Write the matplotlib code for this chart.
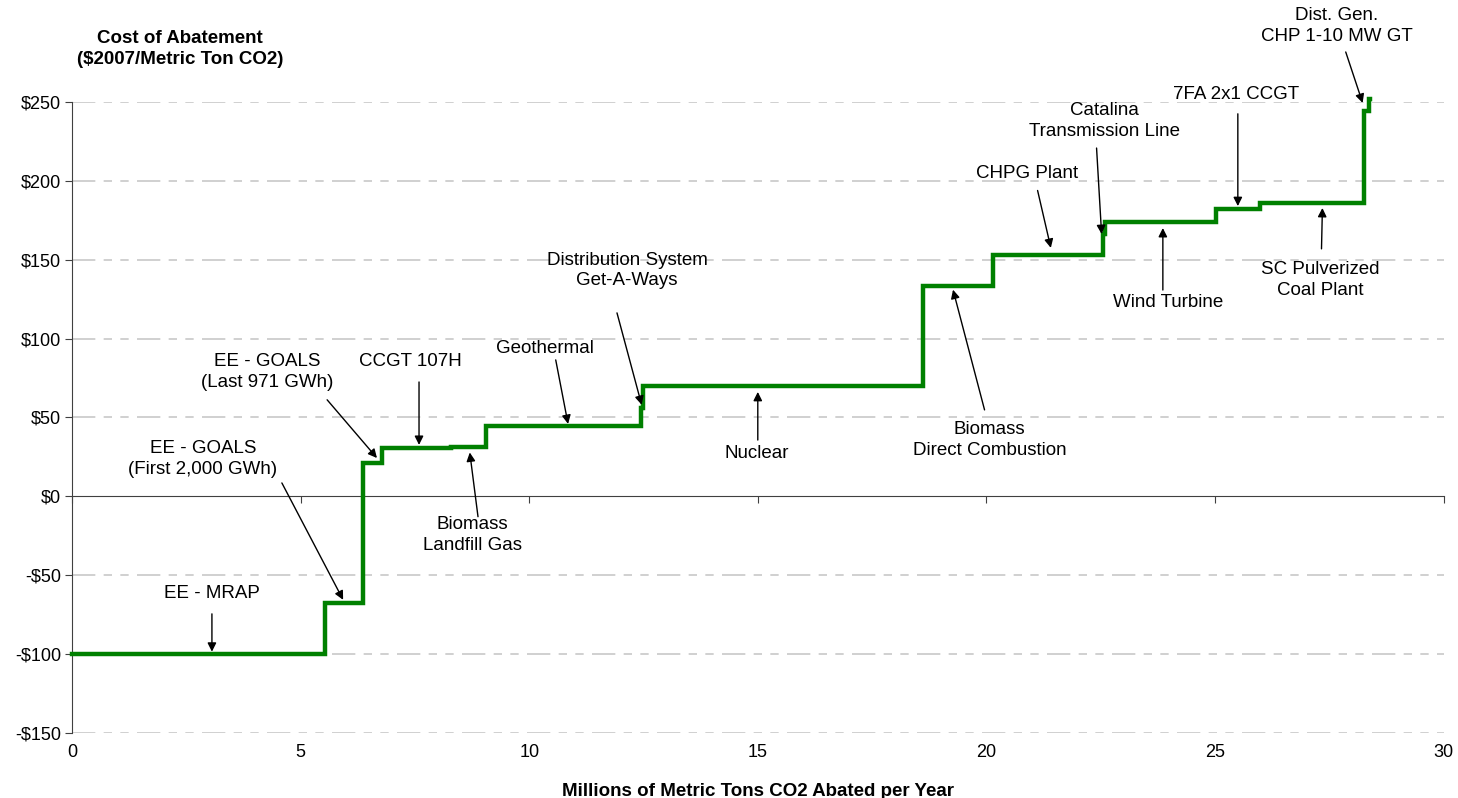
import matplotlib
matplotlib.use('Agg')
import matplotlib.pyplot as plt
import numpy as np

plt.rcParams['font.family'] = ['Liberation Sans', 'DejaVu Sans']

# step edges (millions of metric tons CO2 / yr) and cost levels ($/ton)
edges = [0, 5.53, 6.37, 6.79, 8.30, 9.05, 12.44, 12.49, 18.62, 20.15,
         22.54, 22.59, 25.03, 25.98, 28.27, 28.36, 28.40]
levels = [-100, -67.5, 21, 30.5, 31.5, 44.4, 56, 69.8, 133.3, 153.3,
          166, 174, 182, 186, 244, 252]

# label text, text centre, arrow tail, arrow head (data coords)
labels = ['EE - MRAP', 'EE - GOALS\n(First 2,000 GWh)', 'EE - GOALS\n(Last 971 GWh)',
          'CCGT 107H', 'Biomass\nLandfill Gas', 'Geothermal',
          'Distribution System\nGet-A-Ways', 'Nuclear', 'Biomass\nDirect Combustion',
          'CHPG Plant', 'Catalina\nTransmission Line', '7FA 2x1 CCGT',
          'Dist. Gen.\nCHP 1-10 MW GT', 'Wind Turbine', 'SC Pulverized\nCoal Plant']
text_x = [3.06, 2.86, 4.26, 7.39, 8.75, 10.34, 12.14, 14.98, 20.07, 20.90, 22.59, 25.47, 27.66, 23.97, 27.31]
text_y = [-61.5, 23.6, 78.8, 85.2, -24.5, 93.6, 143.4, 26.9, 35.7, 204.4, 237.9, 254.5, 298.2, 122.7, 137.2]
tail_x = [3.06, 4.59, 5.58, 7.59, 8.88, 10.58, 11.92, 15.00, 19.96, 21.12, 22.41, 25.50, 27.86, 23.86, 27.33]
tail_y = [-74.5, 8.5, 61.2, 72.5, -12.9, 86.5, 116.3, 35.7, 54.8, 193.9, 220.8, 242.5, 281.7, 130.8, 156.9]
head_x = [3.06, 5.93, 6.67, 7.59, 8.70, 10.85, 12.46, 15.00, 19.27, 21.41, 22.52, 25.50, 28.23, 23.86, 27.35]
head_y = [-98.5, -65.6, 24.3, 32.6, 27.8, 45.9, 58.0, 66.2, 131.0, 157.5, 166.3, 184.0, 249.4, 170.1, 182.8]

xticks = [0, 5, 10, 15, 20, 25, 30]
yticks = [-150, -100, -50, 0, 50, 100, 150, 200, 250]
ytick_labels = ['-$150', '-$100', '-$50', '$0', '$50', '$100', '$150', '$200', '$250']

fig = plt.figure(figsize=(14.58, 7.98), dpi=100)
ax = fig.add_axes([0.0494, 0.0815, 0.9407, 0.7907])

ax.set_xlim(0, 30)
ax.set_ylim(-150, 250)

# grid
for yv in yticks:
    if yv == 0:
        continue
    ax.axhline(yv, color='#c8c8c8', lw=1.2, dashes=(14, 5, 5, 5, 5, 5), zorder=0)

# cost curve
ax.step(edges, levels + [levels[-1]], where='post', color='#008000', lw=3.2,
        solid_joinstyle='miter', clip_on=False, zorder=3)

# annotations
for i in range(len(labels)):
    ax.text(text_x[i], text_y[i], labels[i], ha='center', va='center', fontsize=13.5,
            linespacing=1.25, clip_on=False)
    ax.annotate('', xy=(head_x[i], head_y[i]), xytext=(tail_x[i], tail_y[i]),
                arrowprops=dict(arrowstyle='-|>', color='black', lw=1.0,
                                mutation_scale=13, shrinkA=0, shrinkB=0),
                annotation_clip=False, zorder=4)

# axes styling
for s in ['top', 'right']:
    ax.spines[s].set_visible(False)
ax.spines['left'].set_color('#404040')
ax.spines['bottom'].set_position(('data', 0))
ax.spines['bottom'].set_color('#404040')
ax.set_xticks(xticks)
ax.tick_params(axis='x', direction='out', length=5, color='#404040', labelbottom=False)
ax.set_yticks(yticks)
ax.set_yticklabels(ytick_labels)
ax.tick_params(axis='y', direction='out', length=5, color='#404040', labelsize=13, pad=3)

# x tick labels at the bottom of the plot
sec = ax.secondary_xaxis('bottom')
sec.set_xticks(xticks)
sec.spines['bottom'].set_visible(False)
sec.tick_params(axis='x', length=0, labelsize=13, pad=8)

fig.text(180 / 1458, 1 - 49 / 798, 'Cost of Abatement\n($2007/Metric Ton CO2)', ha='center',
         va='center', fontsize=13.5, fontweight='bold', linespacing=1.3)
fig.text(758 / 1458, 1 - 792 / 798, 'Millions of Metric Tons CO2 Abated per Year', ha='center',
         va='center', fontsize=13.5, fontweight='bold')

fig.savefig('out.png', dpi=100)
